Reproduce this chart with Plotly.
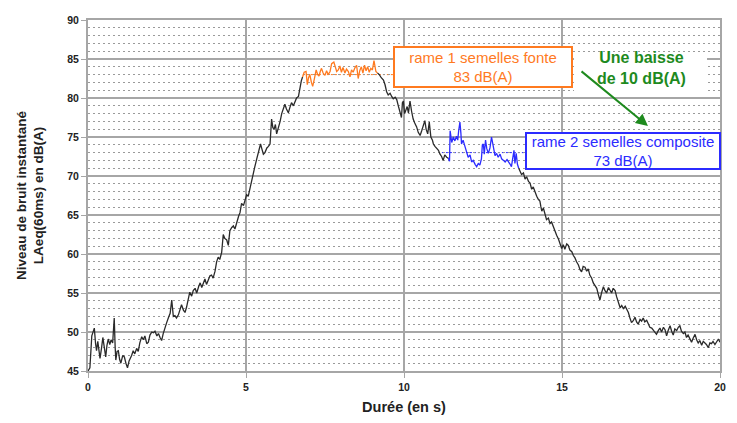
import plotly.graph_objects as go

# ---- data ----
t_black1 = [0.00,0.06,0.12,0.17,0.20,0.24,0.27,0.31,0.35,0.38,0.43,0.47,0.51,0.56,0.60,0.64,0.69,0.73,0.78,0.83,0.86,0.88,0.92,0.96,1.00,1.04,1.10,1.15,1.20,1.25,1.30,1.34,1.38,1.43,1.48,1.54,1.59,1.64,1.70,1.75,1.80,1.86,1.91,1.96,2.02,2.07,2.12,2.18,2.23,2.28,2.33,2.38,2.43,2.49,2.55,2.60,2.65,2.70,2.75,2.80,2.86,2.91,2.96,3.02,3.07,3.12,3.17,3.22,3.28,3.33,3.39,3.44,3.50,3.55,3.60,3.65,3.70,3.75,3.81,3.86,3.91,3.96,4.02,4.07,4.12,4.17,4.23,4.28,4.33,4.39,4.44,4.49,4.55,4.60,4.65,4.72,4.77,4.81,4.86,4.92,4.97,5.02,5.07,5.12,5.18,5.23,5.28,5.34,5.40,5.46,5.50,5.55,5.60,5.66,5.71,5.76,5.81,5.85,5.89,5.93,5.97,6.02,6.08,6.13,6.18,6.23,6.28,6.34,6.39,6.44,6.50,6.55,6.60,6.66,6.71,6.75,6.79]
v_black1 = [45.0,45.4,49.5,50.3,50.5,48.5,47.6,48.8,47.2,46.6,48.0,49.3,48.2,46.8,48.3,49.1,48.4,49.0,48.6,51.8,48.0,46.4,47.5,47.6,46.5,46.0,47.0,46.8,46.0,45.4,46.3,46.8,47.0,47.6,47.2,47.9,47.5,48.6,49.4,49.0,49.5,48.5,48.7,49.6,50.0,49.9,50.1,49.5,49.8,49.3,48.9,49.8,50.6,51.2,51.9,52.4,54.1,52.0,52.1,51.8,52.2,53.0,53.5,52.8,52.5,53.2,54.3,55.1,54.6,55.3,55.6,55.0,55.8,56.3,55.7,56.2,56.8,56.1,56.7,57.2,57.3,56.9,57.8,59.0,59.6,59.3,60.2,62.5,62.0,61.8,61.1,63.0,63.4,63.6,63.2,64.4,64.9,65.3,66.5,66.2,67.0,67.6,67.4,68.3,69.6,70.7,71.2,72.2,73.2,74.1,73.5,72.8,73.0,73.6,73.8,74.1,77.3,76.2,76.0,76.6,75.4,76.0,77.0,78.0,78.7,79.2,78.6,78.1,78.8,79.4,79.0,79.6,80.0,80.2,81.7,82.2,82.7]

t_orange = [6.79,6.84,6.90,6.94,6.98,7.02,7.07,7.11,7.16,7.22,7.27,7.31,7.35,7.39,7.44,7.50,7.55,7.60,7.66,7.71,7.78,7.83,7.87,7.92,7.97,8.02,8.07,8.13,8.18,8.24,8.29,8.34,8.39,8.45,8.50,8.55,8.60,8.65,8.70,8.75,8.80,8.85,8.90,8.95,9.00,9.05,9.11,9.16]
v_orange = [82.7,83.3,83.4,81.7,82.6,83.0,82.0,81.5,82.4,83.6,83.0,82.8,83.4,83.8,83.2,82.9,83.5,83.0,83.4,84.4,84.6,84.0,83.4,83.6,84.1,83.3,83.9,83.2,83.7,83.4,82.7,83.6,83.3,83.9,84.2,82.5,83.5,84.0,83.2,84.2,83.5,84.0,83.3,83.8,83.6,84.8,83.4,83.2]

t_black2 = [9.16,9.22,9.28,9.35,9.40,9.45,9.50,9.56,9.61,9.66,9.72,9.77,9.82,9.87,9.92,9.95,9.98,10.02,10.06,10.10,10.14,10.19,10.24,10.29,10.34,10.40,10.45,10.51,10.56,10.61,10.66,10.70,10.75,10.80,10.85,10.90,10.93,10.98,11.04,11.09,11.14,11.19,11.24,11.29,11.35,11.40]
v_black2 = [83.2,83.0,82.6,82.3,81.7,80.8,80.4,80.6,80.2,79.9,80.1,79.8,79.0,78.3,77.5,79.4,79.6,78.0,78.6,78.9,78.1,79.6,78.3,77.3,76.8,76.3,75.6,75.2,75.8,76.6,77.1,76.0,75.4,76.9,75.0,74.6,74.1,73.8,73.5,73.3,72.8,72.5,72.0,72.7,72.4,72.3]

t_blue = [11.40,11.44,11.46,11.51,11.56,11.61,11.66,11.70,11.73,11.77,11.80,11.82,11.87,11.93,11.98,12.03,12.09,12.14,12.19,12.25,12.30,12.35,12.40,12.45,12.48,12.51,12.54,12.58,12.62,12.67,12.72,12.77,12.82,12.88,12.93,12.98,13.04,13.09,13.15,13.20,13.26,13.31,13.36,13.40,13.44,13.48,13.51,13.55,13.59,13.63]
v_blue = [72.3,71.9,75.8,74.3,75.0,74.5,75.1,74.6,75.8,76.9,75.5,74.1,74.6,73.9,73.1,72.4,72.7,71.8,72.0,71.5,71.2,71.6,71.4,72.2,74.0,74.1,72.8,74.6,73.5,72.9,73.6,75.0,73.8,72.6,72.9,72.4,72.8,72.2,72.0,71.8,72.1,71.7,71.5,71.2,72.6,73.3,71.6,72.9,71.5,71.0]

t_black3 = [13.63,13.67,13.72,13.78,13.83,13.88,13.94,13.99,14.04,14.09,14.15,14.20,14.25,14.30,14.33,14.36,14.41,14.46,14.51,14.57,14.62,14.67,14.72,14.78,14.83,14.89,14.94,14.99,15.04,15.09,15.15,15.20,15.25,15.31,15.36,15.41,15.46,15.52,15.57,15.62,15.67,15.73,15.78,15.83,15.88,15.94,15.99,16.04,16.10,16.15,16.20,16.25,16.31,16.36,16.41,16.47,16.52,16.57,16.62,16.68,16.73,16.79,16.84,16.89,16.94,17.00,17.05,17.10,17.15,17.20,17.26,17.31,17.36,17.41,17.47,17.52,17.57,17.62,17.68,17.73,17.78,17.84,17.89,17.94,17.99,18.05,18.10,18.15,18.21,18.26,18.31,18.36,18.42,18.47,18.52,18.57,18.63,18.68,18.73,18.78,18.84,18.89,18.94,18.99,19.05,19.10,19.15,19.21,19.26,19.31,19.36,19.42,19.47,19.52,19.57,19.63,19.68,19.73,19.78,19.84,19.89,19.95,20.00]
v_black3 = [71.0,70.7,70.2,70.4,69.6,69.9,69.3,69.1,68.3,68.6,67.8,67.4,67.0,66.8,66.1,65.5,65.9,65.0,64.4,64.6,63.9,64.1,63.5,63.0,62.4,61.9,61.3,60.7,61.2,60.6,61.3,61.1,60.5,60.3,59.8,59.5,59.0,58.6,58.0,57.7,58.4,58.3,57.8,58.1,57.3,56.9,56.3,56.0,55.6,54.8,54.1,55.0,55.8,55.3,55.0,55.7,55.4,55.0,55.6,55.3,54.5,53.7,53.1,53.4,53.0,53.3,52.9,52.5,51.8,51.2,51.5,51.9,51.3,51.0,51.6,51.4,51.8,51.3,51.5,51.0,50.6,50.5,50.2,49.9,49.7,50.2,50.5,50.0,50.6,50.3,49.5,50.2,50.8,50.1,49.6,50.4,50.2,50.6,50.8,50.1,49.8,50.0,49.3,49.6,49.0,48.7,49.2,49.7,49.0,48.6,48.9,48.3,48.8,48.6,48.4,48.0,48.6,48.5,48.8,48.4,48.7,49.1,48.7]

level_rame1 = 83
level_rame2 = 73
label_rame1 = "rame 1 semelles fonte<br>83 dB(A)"
label_rame2 = "rame 2 semelles composite<br>73 dB(A)"
label_drop = "Une baisse<br>de 10 dB(A)"
x_ticks = [0, 5, 10, 15, 20]
y_ticks = [45, 50, 55, 60, 65, 70, 75, 80, 85, 90]

FONT = "Arial, 'Liberation Sans', sans-serif"
ORANGE = "#ff7a1f"
BLUE = "#2b2bff"
GREEN = "#1e8a1e"
BLACK = "#2a2a2a"
GRID = "#a6a6a6"

fig = go.Figure()
for tx, vy in [(t_black1, v_black1), (t_black2, v_black2), (t_black3, v_black3)]:
    fig.add_trace(go.Scatter(x=tx, y=vy, mode="lines", line=dict(color=BLACK, width=1.3), showlegend=False, hoverinfo="skip"))
fig.add_trace(go.Scatter(x=t_orange, y=v_orange, mode="lines", line=dict(color=ORANGE, width=1.3), showlegend=False))
fig.add_trace(go.Scatter(x=t_blue, y=v_blue, mode="lines", line=dict(color=BLUE, width=1.3), showlegend=False))

# dashed mean levels
fig.add_shape(type="line", x0=6.8, x1=9.65, y0=level_rame1, y1=level_rame1, line=dict(color=ORANGE, width=1, dash="2px,2px"), layer="below")
fig.add_shape(type="line", x0=11.2, x1=13.85, y0=level_rame2, y1=level_rame2, line=dict(color=BLUE, width=1, dash="2px,2px"), layer="below")
# darker vertical line at x=5
fig.add_shape(type="line", x0=5, x1=5, y0=45, y1=90, line=dict(color="#333333", width=1), layer="below")
# white background behind the green text (arrow drawn over it)
fig.add_shape(type="rect", x0=15.38, x1=19.59, y0=80.9, y1=85.7, fillcolor="white", line=dict(width=0), layer="above")

fig.add_annotation(x=12.5, y=83.95, xref="x", yref="y", text=label_rame1, showarrow=False,
                   font=dict(family=FONT, size=15, color=ORANGE), bgcolor="white",
                   bordercolor=ORANGE, borderwidth=2, borderpad=1, width=174, height=36)
fig.add_annotation(x=16.93, y=73.2, xref="x", yref="y", text=label_rame2, showarrow=False,
                   font=dict(family=FONT, size=15, color=BLUE), bgcolor="white",
                   bordercolor=BLUE, borderwidth=2, borderpad=0, width=192, height=34)
fig.add_annotation(x=17.5, y=83.9, xref="x", yref="y", text="<b>" + label_drop + "</b>", showarrow=False,
                   font=dict(family=FONT, size=16, color=GREEN))
fig.add_annotation(x=17.72, y=76.4, ax=15.57, ay=83.57, xref="x", yref="y", axref="x", ayref="y",
                   text="", showarrow=True, arrowhead=2, arrowsize=1.2, arrowwidth=2, arrowcolor=GREEN,
                   standoff=0, startstandoff=0)

# page body has an 8px margin: shrink the figure so that the plot area lands where the reference's does
fig.update_layout(
    width=729, height=415,
    margin=dict(l=80, r=17, t=6, b=52),
    paper_bgcolor="white", plot_bgcolor="white",
    font=dict(family=FONT, size=10, color="#222"),
    xaxis=dict(range=[0, 20], tickvals=x_ticks, showgrid=True, gridcolor=GRID, gridwidth=2,
               zeroline=False, showline=True, linecolor=GRID, linewidth=2, mirror=True,
               ticks="outside", ticklen=5, tickcolor=GRID,
               tickfont=dict(family=FONT, size=10.5, color="#222", weight="bold"),
               title=dict(text="<b>Durée (en s)</b>", font=dict(family=FONT, size=14.5, color="#222"), standoff=10)),
    yaxis=dict(range=[45, 90], tickvals=y_ticks, showgrid=True, gridcolor=GRID, gridwidth=2,
               zeroline=False, showline=True, linecolor=GRID, linewidth=2, mirror=True,
               ticks="outside", ticklen=5, tickcolor=GRID,
               minor=dict(dtick=1, showgrid=True, gridcolor="#9a9a9a", gridwidth=1, griddash="2px,3px", ticks=""),
               tickfont=dict(family=FONT, size=10.5, color="#222", weight="bold"),
               title=dict(text="<b>Niveau de bruit instantané<br>LAeq(60ms) en dB(A)</b>",
                          font=dict(family=FONT, size=13.5, color="#222"), standoff=20)),
)
fig.write_html("out.html")
